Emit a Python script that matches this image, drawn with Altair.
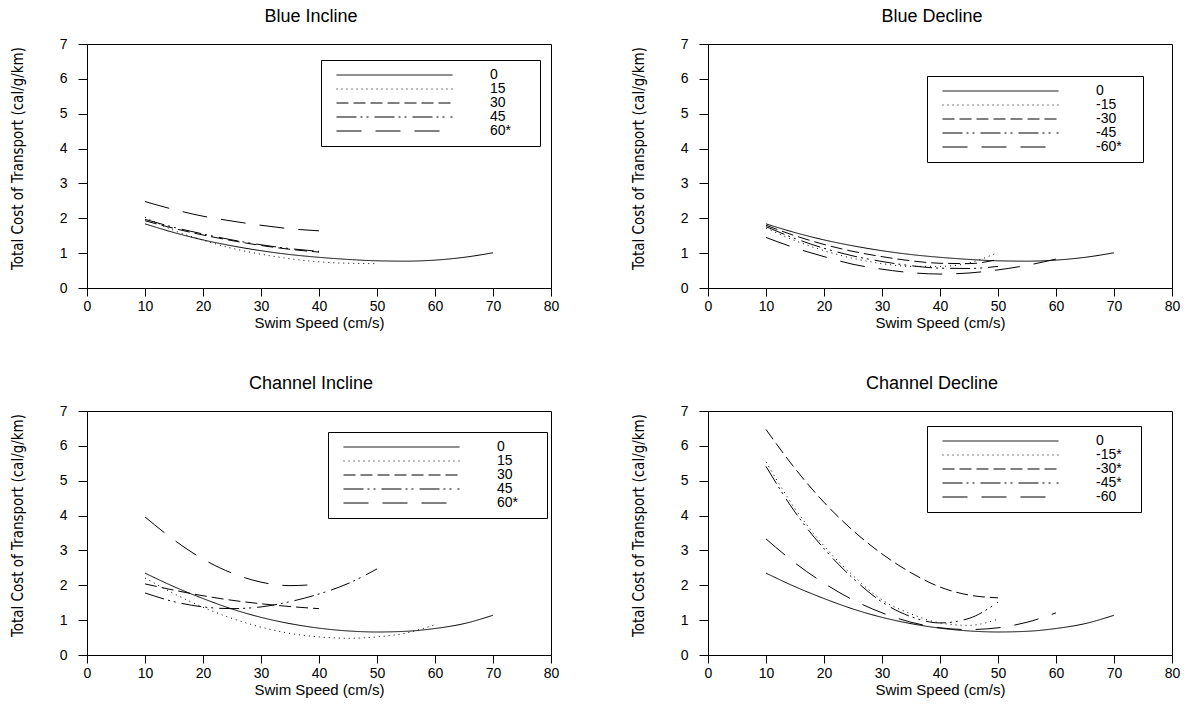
import altair as alt
import pandas as pd

speeds = [10, 15, 20, 25, 30, 35, 40, 45, 50, 55, 60, 65, 70]

# Blue Incline
bi_labels = ["0", "15", "30", "45", "60*"]
bi_0 = [1.84, 1.59, 1.38, 1.21, 1.07, 0.96, 0.88, 0.82, 0.78, 0.77, 0.80, 0.88, 1.01]
bi_15 = [2.03, 1.65, 1.37, 1.14, 0.97, 0.84, 0.75, 0.71, 0.70]
bi_30 = [1.93, 1.71, 1.52, 1.36, 1.22, 1.11, 1.03]
bi_45 = [1.97, 1.74, 1.55, 1.38, 1.24, 1.13, 1.05]
bi_60 = [2.48, 2.25, 2.06, 1.92, 1.80, 1.70, 1.64]

# Blue Decline
bd_labels = ["0", "-15", "-30", "-45", "-60*"]
bd_0 = [1.84, 1.59, 1.38, 1.21, 1.07, 0.96, 0.88, 0.82, 0.78, 0.77, 0.80, 0.88, 1.01]
bd_15 = [1.72, 1.36, 1.07, 0.85, 0.70, 0.62, 0.62, 0.72, 1.02]
bd_30 = [1.80, 1.50, 1.25, 1.05, 0.90, 0.78, 0.71, 0.70, 0.82]
bd_45 = [1.76, 1.42, 1.14, 0.92, 0.76, 0.64, 0.57, 0.56, 0.62]
bd_60 = [1.45, 1.15, 0.90, 0.68, 0.54, 0.44, 0.40, 0.43, 0.52, 0.65, 0.83]

# Channel Incline
ci_labels = ["0", "15", "30", "45", "60*"]
ci_0 = [2.35, 1.96, 1.62, 1.32, 1.08, 0.90, 0.77, 0.69, 0.66, 0.68, 0.76, 0.90, 1.14]
ci_15 = [2.21, 1.76, 1.37, 1.05, 0.80, 0.62, 0.52, 0.48, 0.52, 0.63, 0.87]
ci_30 = [2.04, 1.86, 1.70, 1.57, 1.47, 1.39, 1.33]
ci_45 = [1.78, 1.53, 1.38, 1.33, 1.38, 1.53, 1.75, 2.05, 2.47]
ci_60 = [3.96, 3.30, 2.75, 2.35, 2.09, 1.99, 2.03]

# Channel Decline
cd_labels = ["0", "-15*", "-30*", "-45*", "-60"]
cd_0 = [2.35, 1.96, 1.62, 1.32, 1.08, 0.90, 0.77, 0.69, 0.66, 0.68, 0.76, 0.90, 1.14]
cd_15 = [5.54, 4.20, 3.13, 2.28, 1.58, 1.18, 0.92, 0.85, 1.03]
cd_30 = [6.47, 5.35, 4.38, 3.57, 2.90, 2.36, 1.95, 1.72, 1.64]
cd_45 = [5.41, 4.10, 3.05, 2.20, 1.52, 1.10, 0.92, 1.05, 1.52]
cd_60 = [3.33, 2.64, 2.06, 1.58, 1.21, 0.94, 0.78, 0.73, 0.78, 0.94, 1.21]

dashes = [[1, 0], [1, 4], [12, 5], [20, 4, 2, 4, 2, 6], [25, 14]]

FONT = "Liberation Sans, Arial, sans-serif"
NARROW = "Liberation Sans Narrow, DejaVu Sans Condensed, Arial Narrow, Liberation Sans, sans-serif"


def make_df(labels, series):
    rows = []
    for lab, vals in zip(labels, series):
        for s, v in zip(speeds, vals):
            rows.append({"series": lab, "speed": s, "cost": v})
    return pd.DataFrame(rows)


def panel(title, labels, series, lx, ly, extra):
    df = make_df(labels, series)
    return (
        alt.Chart(df)
        .mark_line(color="black", strokeWidth=1, interpolate="monotone")
        .encode(
            x=alt.X(
                "speed:Q",
                scale=alt.Scale(domain=[0, 80], nice=False, zero=True),
                axis=alt.Axis(
                    values=list(range(0, 81, 10)),
                    title="Swim Speed (cm/s)",
                    titleFont=FONT,
                    titleFontSize=15,
                    titleFontWeight="normal",
                    titleColor="black",
                    titlePadding=2,
                    labelFont=FONT,
                    labelFontSize=14,
                    labelColor="black",
                    labelPadding=3,
                    tickSize=8,
                    tickColor="black",
                    domainColor="black",
                    grid=False,
                    labelFlush=False,
                ),
            ),
            y=alt.Y(
                "cost:Q",
                scale=alt.Scale(domain=[0, 7], nice=False),
                axis=alt.Axis(
                    values=list(range(0, 8)),
                    title="Total Cost of Transport (cal/g/km)",
                    titleFont=NARROW,
                    titleFontSize=15,
                    titleFontWeight="normal",
                    titleColor="black",
                    titlePadding=34,
                    titleY=114,
                    labelFont=FONT,
                    labelFontSize=14,
                    labelColor="black",
                    labelPadding=11,
                    tickSize=9,
                    tickColor="black",
                    domainColor="black",
                    grid=False,
                ),
            ),
            strokeDash=alt.StrokeDash(
                "series:N",
                scale=alt.Scale(domain=labels, range=dashes),
                legend=alt.Legend(
                    title=" ",
                    titleOrient="right",
                    titlePadding=extra,
                    titleFontSize=13,
                    orient="none",
                    legendX=lx,
                    legendY=ly,
                    symbolType="stroke",
                    symbolSize=13456,
                    symbolOffset=7,
                    symbolStrokeWidth=1,
                    symbolStrokeColor="black",
                    labelFont=FONT,
                    labelFontSize=14,
                    labelColor="black",
                    labelOffset=37,
                    clipHeight=14,
                    rowPadding=0,
                    padding=8,
                    strokeColor="black",
                    fillColor="white",
                ),
            ),
            order="speed:Q",
        )
        .properties(
            width=464,
            height=244,
            title=alt.Title(
                title,
                font=FONT,
                fontSize=18,
                fontWeight="normal",
                color="black",
                offset=11,
                dx=-8,
                anchor="middle",
            ),
        )
    )


p1 = panel("Blue Incline", bi_labels, [bi_0, bi_15, bi_30, bi_45, bi_60], 234, 16, 21)
p2 = panel("Blue Decline", bd_labels, [bd_0, bd_15, bd_30, bd_45, bd_60], 219, 32, 13)
p3 = panel("Channel Incline", ci_labels, [ci_0, ci_15, ci_30, ci_45, ci_60], 241, 21, 21)
p4 = panel("Channel Decline", cd_labels, [cd_0, cd_15, cd_30, cd_45, cd_60], 219, 15, 11)

row1 = alt.hconcat(p1, p2, spacing=70).resolve_scale(strokeDash="independent").resolve_legend(strokeDash="independent")
row2 = alt.hconcat(p3, p4, spacing=70).resolve_scale(strokeDash="independent").resolve_legend(strokeDash="independent")

chart = (
    alt.vconcat(row1, row2, spacing=43)
    .resolve_scale(strokeDash="independent")
    .resolve_legend(strokeDash="independent")
    .properties(padding={"left": 9, "top": 7, "right": 5, "bottom": 5}, background="white")
    .configure_view(stroke="black", strokeWidth=1)
)

chart.save("out.html", embed_options={"renderer": "svg", "actions": False})
